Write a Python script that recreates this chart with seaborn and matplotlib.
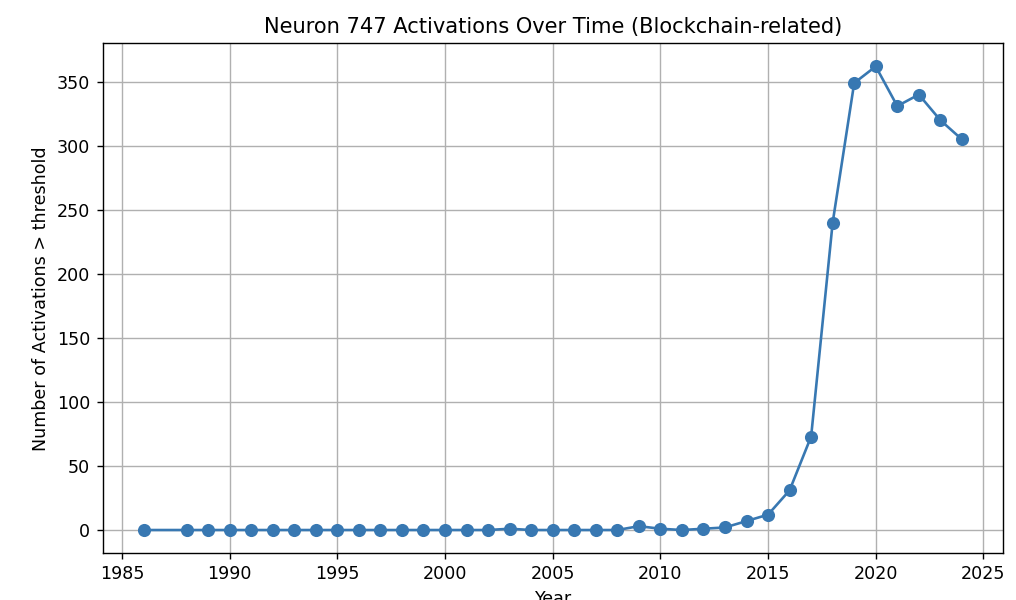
import pandas as pd
import matplotlib
matplotlib.use("Agg")
import matplotlib.pyplot as plt
import seaborn as sns

years = [1986, 1988, 1989, 1990, 1991, 1992, 1993, 1994, 1995, 1996,
         1997, 1998, 1999, 2000, 2001, 2002, 2003, 2004, 2005, 2006,
         2007, 2008, 2009, 2010, 2011, 2012, 2013, 2014, 2015, 2016,
         2017, 2018, 2019, 2020, 2021, 2022, 2023, 2024]
activations = [0, 0, 0, 0, 0, 0, 0, 0, 0, 0,
               0, 0, 0, 0, 0, 0, 1, 0, 0, 0,
               0, 0, 3, 1, 0, 1, 2, 7, 12, 31,
               73, 240, 349, 362, 331, 340, 320, 305]

df = pd.DataFrame({'Year': years, 'Activations': activations})

# reference looks like a default-size plot rendered at a higher dpi
dpi = 126
fig, ax = plt.subplots(figsize=(1016 / dpi, 600 / dpi), dpi=dpi)
sns.lineplot(data=df, x='Year', y='Activations', marker='o', markersize=7.5,
             markeredgewidth=0, color='#3878b2', linewidth=1.5, ax=ax)
ax.grid(True, color='#b0b0b0', linewidth=0.8)
ax.set_axisbelow(True)
ax.set_title('Neuron 747 Activations Over Time (Blockchain-related)', fontsize=12)
ax.set_xlabel('Year', fontsize=10)
ax.set_ylabel('Number of Activations > threshold', fontsize=10)
ax.set_xticks(range(1985, 2026, 5))
ax.tick_params(labelsize=10)
fig.subplots_adjust(left=0.101, right=0.987, top=0.928, bottom=0.078)
fig.savefig('out.png', dpi=dpi)
